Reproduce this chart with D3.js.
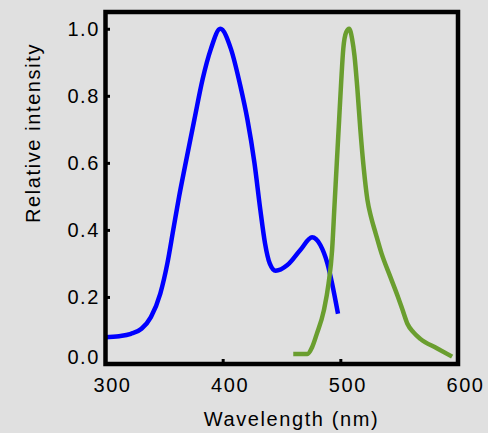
<!DOCTYPE html>
<html>
<head>
<style>
  body { margin: 0; background: #e0e0e0; }
  svg { display: block; }
  text { font-family: "Liberation Sans", Arial, sans-serif; font-size: 20px; fill: #000; letter-spacing: 1.6px; }
  .curve { fill: none; stroke-width: 4.5px; stroke-linejoin: round; }
</style>
</head>
<body>
<svg width="488" height="433"></svg>
<script src="https://d3js.org/d3.v7.min.js"></script>
<script>
// excitation (blue) and emission (green) spectra
const blueWl  = [300, 312, 322, 331, 339, 347, 353, 358, 363, 368, 376, 383, 390, 398, 407, 415, 421, 427, 432, 436, 440, 445, 455, 466, 476, 483, 489, 493, 498];
const blueInt = [0.08, 0.083, 0.09, 0.105, 0.14, 0.21, 0.3, 0.4, 0.5, 0.59, 0.73, 0.85, 0.94, 1.0, 0.94, 0.83, 0.73, 0.6, 0.46, 0.36, 0.3, 0.278, 0.295, 0.34, 0.378, 0.355, 0.3, 0.24, 0.15];
const greenWl  = [460, 472, 476, 480, 486, 490, 493, 495, 497, 499, 500.7, 502.5, 505, 507.5, 510, 512, 514.5, 517, 520, 523, 526, 530, 535, 542.5, 549, 553, 557, 562, 568, 582, 595];
const greenInt = [0.03, 0.03, 0.05, 0.09, 0.16, 0.24, 0.34, 0.47, 0.6, 0.73, 0.84, 0.94, 0.99, 1.0, 0.97, 0.92, 0.82, 0.7, 0.58, 0.49, 0.44, 0.39, 0.33, 0.26, 0.2, 0.16, 0.12, 0.095, 0.075, 0.047, 0.022];
const xTicks = [300, 400, 500, 600];
const yTicks = [0, 0.2, 0.4, 0.6, 0.8, 1.0];

const svg = d3.select("svg");
const x = d3.scaleLinear().domain([300, 600]).range([105, 458]);
const y = d3.scaleLinear().domain([0, 1.05]).range([364, 12]);

const line = d3.line()
  .x(d => x(d[0]))
  .y(d => y(d[1]))
  .curve(d3.curveMonotoneX);

svg.append("path").attr("class", "curve")
  .attr("stroke", "#0000ff")
  .attr("d", line(d3.zip(blueWl, blueInt)));
svg.append("path").attr("class", "curve")
  .attr("stroke", "#6a9e2f")
  .attr("d", line(d3.zip(greenWl, greenInt)));

// axes with short inward ticks
const xAxis = svg.append("g")
  .attr("transform", "translate(0,364)")
  .call(d3.axisBottom(x).tickValues(xTicks).tickSizeInner(-5).tickSizeOuter(0).tickPadding(14).tickFormat(d3.format("d")));
xAxis.selectAll("text").attr("dx", 7).style("font-size", "20px").style("font-family", null);

const yAxis = svg.append("g")
  .attr("transform", "translate(105,0)")
  .call(d3.axisLeft(y).tickValues(yTicks).tickSizeInner(-5).tickSizeOuter(0).tickPadding(5).tickFormat(d3.format(".1f")));
yAxis.selectAll("text").style("font-size", "20px").style("font-family", null)
  .attr("dy", d => d === 0 ? "-0.05em" : "0.32em");

svg.selectAll(".domain").remove();
svg.selectAll(".tick line").attr("stroke", "#000").attr("stroke-width", 3);

// frame
svg.append("rect")
  .attr("x", 105.5).attr("y", 12)
  .attr("width", 352.5).attr("height", 352)
  .attr("fill", "none").attr("stroke", "#000").attr("stroke-width", 4.5);

svg.append("text")
  .attr("x", x(450) + 10).attr("y", 426)
  .attr("text-anchor", "middle")
  .text("Wavelength (nm)");

svg.append("text")
  .attr("transform", "translate(40,133) rotate(-90)")
  .attr("text-anchor", "middle")
  .text("Relative intensity");
</script>
</body>
</html>
